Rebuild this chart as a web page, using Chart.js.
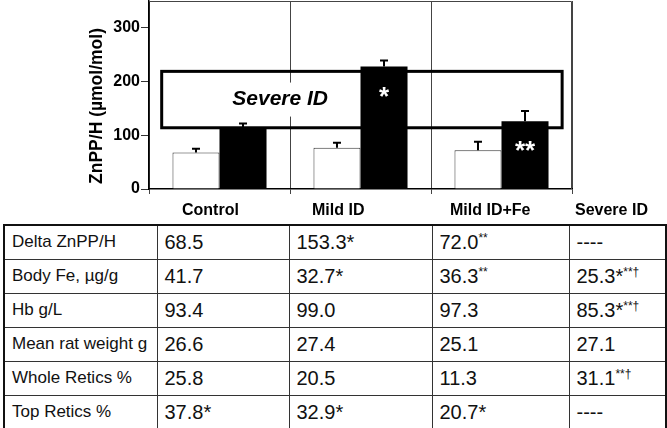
<!DOCTYPE html>
<html>
<head>
<meta charset="utf-8">
<script src="https://cdn.jsdelivr.net/npm/chart.js@4/dist/chart.umd.min.js"></script>
<style>
  body { margin: 0; background: #fff; font-family: "Liberation Sans", Arial, Helvetica, sans-serif; }
  #wrap { position: relative; width: 667px; height: 428px; overflow: hidden; }
  #chart { position: absolute; left: 0; top: 0; }
  .hd { position: absolute; top: 201px; font-weight: bold; font-size: 16px; color: #000; white-space: nowrap; }
  table { position: absolute; left: 3px; top: 224px; width: 662px;
          border-collapse: collapse; table-layout: fixed; border: 2px solid #111; }
  td { border: 1px solid #333; padding: 0 0 2px 7px; height: 31px; line-height: 22px; white-space: nowrap; color: #111; }
  td.lab { font-size: 17px; }
  td.val { font-size: 20px; }
  sup { font-size: 12px; vertical-align: 7px; line-height: 0; }
</style>
</head>
<body>
<div id="wrap">
  <canvas id="chart" width="667" height="222"></canvas>
  <table id="tbl"></table>
</div>
<script>
// bar chart data (ZnPP/H, µmol/mol)
const groups = ['Control', 'Mild ID', 'Mild ID+Fe'];
const openVals = [68, 77, 72];
const openErr = [75, 86, 88];
const filledVals = [114, 228, 126];
const filledErr = [122, 239, 145];
const filledMarks = ['', '*', '**'];
const severeLo = 114;
const severeHi = 219;
const yTicks = [0, 100, 200, 300];

// table data
const colHeads = ['Control', 'Mild ID', 'Mild ID+Fe', 'Severe ID'];
const rowLabels = ['Delta ZnPP/H', 'Body Fe, µg/g', 'Hb g/L', 'Mean rat weight g', 'Whole Retics %', 'Top Retics %'];
const controlCol = ['68.5', '41.7', '93.4', '26.6', '25.8', '37.8*'];
const mildCol = ['153.3*', '32.7*', '99.0', '27.4', '20.5', '32.9*'];
const mildFeCol = ['72.0^**', '36.3^**', '97.3', '25.1', '11.3', '20.7*'];
const severeCol = ['----', '25.3*^**†', '85.3*^**†', '27.1', '31.1^**†', '----'];

const FONT = '"Liberation Sans", Arial, Helvetica, sans-serif';

const extras = {
  id: 'extras',
  afterDatasetsDraw(chart) {
    const ctx = chart.ctx;
    const x = chart.scales.x, y = chart.scales.y;
    const a = chart.chartArea;

    // frame top / right
    ctx.save();
    ctx.strokeStyle = '#444';
    ctx.lineWidth = 1;
    ctx.beginPath();
    ctx.moveTo(a.left, a.top + 0.5);
    ctx.lineTo(a.right - 0.5, a.top + 0.5);
    ctx.lineTo(a.right - 0.5, a.bottom);
    ctx.stroke();

    // error bars
    ctx.strokeStyle = '#000';
    ctx.lineWidth = 2;
    [openErr, filledErr].forEach((errs, d) => {
      const meta = chart.getDatasetMeta(d);
      meta.data.forEach((bar, i) => {
        const yt = y.getPixelForValue(errs[i]);
        ctx.beginPath();
        ctx.moveTo(bar.x, bar.y);
        ctx.lineTo(bar.x, yt);
        ctx.moveTo(bar.x - 4, yt);
        ctx.lineTo(bar.x + 4, yt);
        ctx.stroke();
      });
    });

    // severe ID range box
    const bx0 = x.getPixelForValue(-0.41), bx1 = x.getPixelForValue(2.43);
    const by0 = y.getPixelForValue(severeHi), by1 = y.getPixelForValue(severeLo);
    ctx.lineWidth = 3;
    ctx.strokeStyle = '#000';
    ctx.strokeRect(bx0, by0, bx1 - bx0, by1 - by0);
    const tx = x.getPixelForValue(0.43), ty = y.getPixelForValue((severeLo + severeHi) / 2);
    ctx.font = 'italic bold 21px ' + FONT;
    const tw = ctx.measureText('Severe ID').width;
    ctx.fillStyle = '#fff';
    ctx.fillRect(tx - tw / 2 - 6, ty - 17, tw + 12, 34);
    ctx.fillStyle = '#000';
    ctx.textAlign = 'center';
    ctx.textBaseline = 'middle';
    ctx.fillText('Severe ID', tx, ty);

    // significance marks on filled bars
    ctx.font = 'bold 26px ' + FONT;
    ctx.fillStyle = '#fff';
    chart.getDatasetMeta(1).data.forEach((bar, i) => {
      if (filledMarks[i]) ctx.fillText(filledMarks[i], bar.x, bar.y + 31);
    });

    // y axis title
    ctx.translate(97, 106);
    ctx.rotate(-Math.PI / 2);
    ctx.font = 'bold 17.5px ' + FONT;
    ctx.fillStyle = '#000';
    ctx.fillText('ZnPP/H (µmol/mol)', 0, 0);
    ctx.restore();
  }
};

new Chart(document.getElementById('chart'), {
  type: 'bar',
  data: {
    labels: groups,
    datasets: [{
      data: openVals,
      backgroundColor: '#fff',
      borderColor: '#333',
      borderWidth: 1,
      barPercentage: 1,
      categoryPercentage: 0.667
    }, {
      data: filledVals,
      backgroundColor: '#000',
      borderColor: '#000',
      borderWidth: 0,
      barPercentage: 1,
      categoryPercentage: 0.667
    }]
  },
  options: {
    responsive: false,
    animation: false,
    layout: { padding: { top: 1, right: 95, left: 0, bottom: 0 } },
    plugins: { legend: { display: false }, tooltip: { enabled: false } },
    scales: {
      x: {
        offset: true,
        grid: { offset: true, color: '#444', lineWidth: 1, tickLength: 5, drawTicks: true },
        border: { color: '#000', width: 1.5 },
        ticks: { display: false },
        afterFit(s) { s.height = 33; s.paddingLeft = 0; s.paddingRight = 0; }
      },
      y: {
        min: 0,
        max: 350,
        ticks: { stepSize: 100, color: '#000', padding: 1, font: { family: FONT, size: 16, weight: 'bold' } },
        afterBuildTicks(s) { s.ticks = yTicks.map(v => ({ value: v })); },
        grid: { drawOnChartArea: false, color: '#333', tickLength: 8 },
        border: { color: '#000', width: 1.5 },
        afterFit(s) { s.width = 149; s.paddingTop = 0; s.paddingBottom = 0; }
      }
    }
  },
  plugins: [extras]
});

// column heads and table
const wrap = document.getElementById('wrap');
const headX = [182, 312, 450, 575];
colHeads.forEach((h, i) => {
  const d = document.createElement('div');
  d.className = 'hd';
  d.style.left = headX[i] + 'px';
  d.textContent = h;
  wrap.appendChild(d);
});

function cellHtml(s) {
  const parts = s.split('^');
  return parts[0] + (parts[1] ? '<sup>' + parts[1] + '</sup>' : '');
}

const tbl = document.getElementById('tbl');
const colW = [153, 132, 143, 137, 97];
const cg = document.createElement('colgroup');
colW.forEach(w => { const c = document.createElement('col'); c.style.width = w + 'px'; cg.appendChild(c); });
tbl.appendChild(cg);
const cols = [controlCol, mildCol, mildFeCol, severeCol];
rowLabels.forEach((lab, r) => {
  const tr = document.createElement('tr');
  const th = document.createElement('td');
  th.className = 'lab';
  th.textContent = lab;
  tr.appendChild(th);
  cols.forEach(col => {
    const td = document.createElement('td');
    td.className = 'val';
    td.innerHTML = cellHtml(col[r]);
    tr.appendChild(td);
  });
  tbl.appendChild(tr);
});
</script>
</body>
</html>
